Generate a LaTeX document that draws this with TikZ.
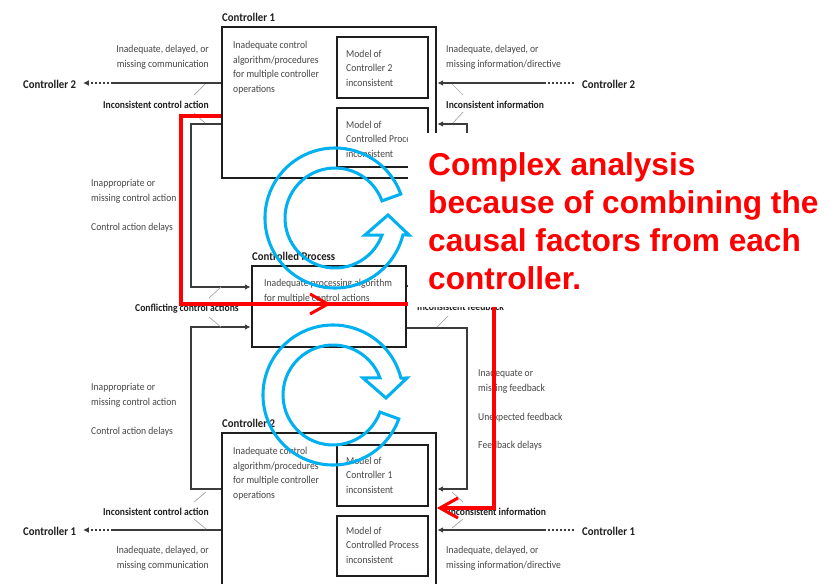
\documentclass[tikz,border=0pt]{standalone}
\usepackage{fontspec}
\setmainfont{Carlito}
\newfontfamily\slimfont[FakeStretch=0.91]{Carlito}
\newfontfamily\calloutfont{Liberation Sans}
\usetikzlibrary{calc,arrows.meta,fit}
\definecolor{ink}{HTML}{1E1E1E}
\definecolor{wirec}{HTML}{3C3C3C}
\definecolor{note}{HTML}{454545}
\definecolor{lead}{HTML}{A6A6A6}
\definecolor{hot}{HTML}{FF0000}
\definecolor{sky}{HTML}{00B0F0}
\tikzset{
  frame/.style={draw=ink, line width=2.3pt, inner sep=0pt},
  wire/.style={draw=wirec, line width=1.1pt},
  feed/.style={wire, -{Latex[length=5pt,width=5pt]}},
  dots/.style={draw=wirec, line width=1.1pt, dash pattern=on 1.4pt off 2pt},
  tick/.style={draw=lead, line width=0.6pt},
  txt/.style={text=note, font=\slimfont\fontsize{9}{12.3}\selectfont, inner sep=0pt, anchor=base west, align=left},
  hdr/.style={txt, text=ink, font=\slimfont\bfseries\fontsize{9}{12.3}\selectfont},
  title/.style={txt, text=ink, font=\slimfont\bfseries\fontsize{10.1}{12.3}\selectfont},
  redpath/.style={draw=hot, line width=2.6pt, line join=miter},
  swirl/.style={draw=sky, line width=2.6pt, line join=miter},
  callout/.style={text=hot, font=\calloutfont\bfseries\fontsize{27}{32.3}\selectfont, align=left, inner sep=0pt, anchor=base west},
}

\begin{document}
\begin{tikzpicture}[x=0.03cm, y=-0.03cm]
  \useasboundingbox (0,0) rectangle (834,584);
  \clip (0,0) rectangle (834,584);

  % boxes
  \node[frame, fit={(222,27) (436,178)}] (c1) {};
  \node[frame, fit={(337,37) (428,98)}] (c1m1) {};
  \node[frame, fit={(337,108) (428,167)}] (c1m2) {};
  \node[frame, fit={(252,266) (406,347)}] (cp) {};
  \node[frame, fit={(222,433) (436,600)}] (c2) {};
  \node[frame, fit={(337,445) (428,506)}] (c2m1) {};
  \node[frame, fit={(337,516) (428,576)}] (c2m2) {};

  % titles and box texts (multi-line nodes sit on their last line)
  \node[title] (t1) at (222,21) {Controller 1};
  \node[txt] (t1a) at (233,92) {Inadequate control\\algorithm/procedures\\for multiple controller\\operations};
  \node[txt] (t1b) at (346,86) {Model of\\Controller 2\\inconsistent};
  \node[txt] (t1c) at (346,157) {Model of\\Controlled Process\\inconsistent};
  \node[title] (tp) at (252,260) {Controlled Process};
  \node[txt] (tpa) at (264,301) {Inadequate processing algorithm\\for multiple control actions};
  \node[title] (t2) at (222,427) {Controller 2};
  \node[txt] (t2a) at (233,498) {Inadequate control\\algorithm/procedures\\for multiple controller\\operations};
  \node[txt] (t2b) at (346,493) {Model of\\Controller 1\\inconsistent};
  \node[txt] (t2c) at (346,563) {Model of\\Controlled Process\\inconsistent};

  % side labels
  \node[txt, anchor=base east, align=right] (l1) at (209,67) {Inadequate, delayed, or\\missing communication};
  \node[hdr, anchor=base east] (l2) at (209,108) {Inconsistent control action};
  \node[title] (l3) at (23,88) {Controller 2};
  \node[txt] (l4) at (91,201) {Inappropriate or\\missing control action};
  \node[txt] (l5) at (91,230) {Control action delays};
  \node[hdr] (l6) at (135,311) {Conflicting control actions};
  \node[txt] (l7) at (91,405) {Inappropriate or\\missing control action};
  \node[txt] (l8) at (91,434) {Control action delays};
  \node[hdr, anchor=base east] (l9) at (209,515) {Inconsistent control action};
  \node[title] (l10) at (23,535) {Controller 1};
  \node[txt, anchor=base east, align=right] (l11) at (209,568) {Inadequate, delayed, or\\missing communication};

  \node[txt] (r1) at (446,67) {Inadequate, delayed, or\\missing information/directive};
  \node[hdr] (r2) at (446,108) {Inconsistent information};
  \node[title] (r3) at (582,88) {Controller 2};
  \node[hdr] (r4) at (417,310) {Inconsistent feedback};
  \node[txt] (r5) at (478,391) {Inadequate or\\missing feedback};
  \node[txt] (r6) at (478,420) {Unexpected feedback};
  \node[txt] (r7) at (478,448) {Feedback delays};
  \node[hdr] (r8) at (448,515) {Inconsistent information};
  \node[title] (r9) at (582,535) {Controller 1};
  \node[txt] (r10) at (446,568) {Inadequate, delayed, or\\missing information/directive};

  % corner points of the wires
  \coordinate (dL1) at (113,83);  \coordinate (aL1) at (83,83);
  \coordinate (dL2) at (113,530); \coordinate (aL2) at (83,530);
  \coordinate (kL1) at (191,124); \coordinate (kL2) at (191,287);
  \coordinate (kL3) at (191,327); \coordinate (kL4) at (191,489);
  \coordinate (dR1) at (545,83);  \coordinate (eR1) at (574,83);
  \coordinate (dR2) at (545,530); \coordinate (eR2) at (574,530);
  \coordinate (fR1) at (467,124); \coordinate (fR2) at (467,286);
  \coordinate (fR3) at (467,328); \coordinate (fR4) at (467,489);

  % wires
  \draw[wire] (c1.west |- dL1) -- (dL1);
  \draw[dots, -{Latex[length=5pt,width=5pt]}] (dL1) -- (aL1);
  \draw[wire] (c2.west |- dL2) -- (dL2);
  \draw[dots, -{Latex[length=5pt,width=5pt]}] (dL2) -- (aL2);
  \draw[feed] (c1.west |- kL1) -- (kL1) -- (kL2) -- (cp.west |- kL2);
  \draw[feed] (c2.west |- kL4) -- (kL4) -- (kL3) -- (cp.west |- kL3);
  \draw[dots] (eR1) -- (dR1);
  \draw[feed] (dR1) -- (c1.east |- dR1);
  \draw[dots] (eR2) -- (dR2);
  \draw[feed] (dR2) -- (c2.east |- dR2);
  \draw[feed] (cp.east |- fR2) -- (fR2) -- (fR1) -- (c1.east |- fR1);
  \draw[feed] (cp.east |- fR3) -- (fR3) -- (fR4) -- (c2.east |- fR4);

  % leader ticks
  \foreach \xa/\ya/\xb/\yb in {194/95/205/84, 194/113/205/123, 209/298/221/287,
      209/317/221/327, 194/502/206/492, 194/519/206/529, 452/84/463/95,
      453/123/463/112, 437/327/448/316, 452/492/463/502, 452/528/463/519}
    \draw[tick] (\xa,\ya) -- (\xb,\yb);

  % red route
  \coordinate (rA) at (222,116); \coordinate (rB) at (181,116);
  \coordinate (rC) at (181,304); \coordinate (rD) at (494,304);
  \coordinate (rE) at (494,508); \coordinate (rF) at (440,508);
  \draw[redpath] (c1.west |- rA) -- (rB) -- (rC) -- (rD) -- (rE) -- (rF);
  \coordinate (hA) at (328,304);
  \draw[redpath] (310,294) -- (hA) -- (310,314);
  \draw[redpath] (458,498) -- (rF) -- (458,518);

  % callout
  \fill[white] (408,133) rectangle (834,307);
  \node[callout] (claim) at (428,289) {Complex analysis\\because of combining the\\causal factors from each\\controller.};

  % circular arrows
  \begin{scope}[shift={(335,218)}, yscale=-1]
    \draw[swirl] (20:70) arc[start angle=20, end angle=346, radius=70]
      -- (74,-17) -- (53,3) -- (30,-17) -- (340:50)
      arc[start angle=340, end angle=20, radius=50] -- cycle;
  \end{scope}
  \begin{scope}[shift={(333,395)}]
    \draw[swirl] (20:70) arc[start angle=20, end angle=346, radius=70]
      -- (74,-17) -- (53,3) -- (30,-17) -- (340:50)
      arc[start angle=340, end angle=20, radius=50] -- cycle;
  \end{scope}
\end{tikzpicture}
\end{document}
